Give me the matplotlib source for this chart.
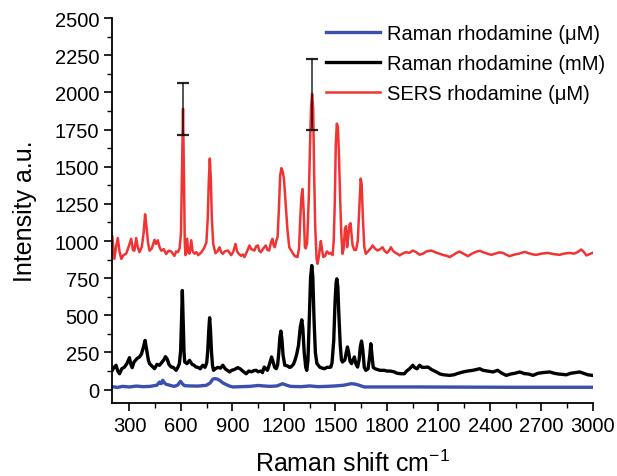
import matplotlib
matplotlib.use("Agg")
import matplotlib.pyplot as plt
from matplotlib.ticker import MultipleLocator

plt.rcParams["font.family"] = ["Liberation Sans", "DejaVu Sans"]
plt.rcParams["mathtext.fontset"] = "custom"
plt.rcParams["mathtext.rm"] = "Liberation Sans"

# ── data ──────────────────────────────────────────────────────────────────────
sers_x = [200, 212, 222, 232, 242, 252, 265, 281, 295, 310, 320, 329, 339, 348, 358,
          372, 383, 391, 398, 408, 417, 430, 446, 455, 465, 475, 485, 500, 514, 528,
          543, 552, 562, 572, 582, 592, 600, 606, 612, 618, 622, 626, 636, 643, 650,
          660, 668, 679, 690, 700, 718, 728, 737, 748, 756, 762, 768, 774, 780, 788,
          801, 812, 825, 834, 844, 855, 873, 883, 893, 905, 918, 927, 937, 950, 960,
          970, 985, 999, 1010, 1028, 1038, 1048, 1056, 1065, 1080, 1094, 1104, 1114,
          1124, 1133, 1140, 1147, 1155, 1163, 1170, 1178, 1185, 1192, 1200, 1210,
          1220, 1231, 1245, 1260, 1272, 1279, 1288, 1295, 1302, 1308, 1315, 1322,
          1327, 1335, 1345, 1352, 1358, 1364, 1370, 1376, 1382, 1390, 1396, 1404,
          1410, 1415, 1422, 1429, 1440, 1450, 1464, 1474, 1483, 1490, 1496, 1502,
          1508, 1514, 1520, 1527, 1534, 1541, 1548, 1555, 1562, 1568, 1575, 1582,
          1588, 1594, 1600, 1610, 1620, 1630, 1640, 1647, 1653, 1660, 1668, 1677,
          1690, 1705, 1716, 1730, 1745, 1760, 1774, 1785, 1800, 1812, 1823, 1835,
          1850, 1862, 1874, 1890, 1910, 1930, 1951, 1970, 1990, 2010, 2030, 2058,
          2080, 2107, 2130, 2150, 2165, 2185, 2205, 2223, 2245, 2272, 2295, 2320,
          2340, 2360, 2385, 2408, 2430, 2456, 2480, 2500, 2515, 2540, 2570, 2602,
          2625, 2650, 2670, 2700, 2738, 2770, 2806, 2830, 2864, 2890, 2910, 2932,
          2948, 2962, 2980, 2997]
sers_y = [1030, 880, 960, 1020, 930, 880, 905, 915, 960, 1015, 940, 935, 1020, 960, 925,
          960, 1060, 1180, 1110, 990, 935, 950, 1008, 980, 1005, 960, 935, 945, 912, 935,
          930, 915, 900, 930, 925, 950, 1050, 1450, 1890, 1400, 1000, 905, 1015, 920, 915,
          1005, 930, 915, 925, 905, 923, 940, 958, 990, 1150, 1400, 1555, 1420, 1150, 980,
          918, 930, 958, 925, 914, 930, 936, 920, 905, 930, 980, 930, 914, 900, 910,
          892, 930, 970, 945, 936, 965, 970, 935, 925, 950, 970, 940, 936,
          990, 1015, 970, 958, 1000, 1026, 1200, 1440, 1490, 1470, 1420, 1250,
          1080, 958, 930, 903, 893, 893, 950, 1150, 1300, 1350, 1200, 960,
          950, 990, 1300, 1650, 1900, 1990, 1900, 1450, 1100, 880, 847, 900,
          960, 1000, 940, 893, 900, 930, 914, 920, 905, 1000, 1250, 1650,
          1790, 1770, 1600, 1300, 1050, 914, 950, 1080, 1100, 958, 1030, 1110,
          1120, 1040, 970, 940, 940, 1000, 1250, 1420, 1380, 1150, 960, 914,
          930, 950, 970, 950, 936, 945, 958, 935, 920, 935, 958, 935,
          920, 914, 903, 915, 925, 920, 936, 925, 908, 915, 930, 936,
          925, 914, 905, 900, 892, 905, 920, 929, 915, 898, 915, 928,
          934, 925, 915, 907, 915, 924, 918, 905, 898, 908, 915, 927,
          918, 910, 907, 915, 920, 912, 907, 915, 920, 915, 925, 943,
          925, 903, 912, 920]

raman_mm_x = [200, 210, 222, 232, 242, 255, 271, 285, 300, 308, 316, 326, 335, 345, 358,
              370, 380, 391, 400, 410, 417, 430, 446, 460, 475, 490, 500, 510, 520, 530,
              543, 555, 572, 582, 591, 598, 603, 608, 613, 618, 622, 635, 650, 665, 675,
              688, 700, 712, 727, 740, 750, 756, 762, 767, 772, 778, 784, 790, 800, 815,
              830, 844, 858, 870, 883, 895, 910, 931, 945, 960, 980, 995, 1010, 1025,
              1038, 1050, 1065, 1075, 1085, 1095, 1104, 1115, 1128, 1138, 1146, 1155,
              1163, 1170, 1176, 1182, 1188, 1195, 1205, 1220, 1232, 1240, 1255, 1265,
              1275, 1285, 1295, 1304, 1310, 1318, 1327, 1333, 1340, 1348, 1355, 1362,
              1368, 1375, 1383, 1392, 1410, 1425, 1435, 1450, 1465, 1473, 1480, 1490,
              1498, 1504, 1508, 1514, 1520, 1528, 1535, 1541, 1555, 1563, 1570, 1577,
              1585, 1594, 1603, 1610, 1620, 1629, 1638, 1645, 1652, 1659, 1668, 1677,
              1690, 1700, 1706, 1712, 1720, 1730, 1745, 1760, 1784, 1800, 1820, 1843,
              1860, 1880, 1901, 1915, 1932, 1951, 1960, 1975, 1990, 2005, 2020, 2039,
              2060, 2088, 2110, 2130, 2165, 2190, 2215, 2243, 2270, 2300, 2320, 2340,
              2360, 2385, 2418, 2445, 2470, 2495, 2520, 2545, 2573, 2600, 2625, 2651,
              2680, 2710, 2748, 2775, 2800, 2845, 2870, 2900, 2923, 2945, 2970, 2997]
raman_mm_y = [130, 150, 164, 125, 107, 140, 152, 175, 215, 170, 148, 185, 197, 210, 220,
              240, 280, 331, 270, 200, 175, 160, 141, 170, 164, 185, 200, 222, 205, 170,
              152, 150, 130, 150, 175, 260, 450, 667, 460, 250, 186, 175, 197, 170, 165,
              152, 150, 140, 164, 150, 180, 260, 400, 484, 400, 250, 160, 130, 140, 150,
              145, 164, 140, 130, 119, 130, 135, 148, 140, 125, 107, 125, 120, 128,
              130, 120, 125, 115, 152, 140, 130, 170, 220, 180, 150, 141,
              165, 250, 350, 394, 340, 230, 164, 160, 150, 152, 170, 200,
              242, 300, 420, 470, 410, 250, 150, 130, 200, 500, 750, 835,
              760, 480, 250, 175, 150, 145, 141, 150, 150, 152, 180, 330,
              600, 720, 746, 690, 500, 300, 200, 186, 200, 250, 287, 250,
              190, 175, 200, 220, 170, 152, 200, 290, 327, 270, 150, 130,
              140, 230, 309, 240, 150, 141, 135, 130, 130, 125, 125, 119,
              110, 107, 107, 125, 141, 164, 150, 140, 164, 150, 150, 152,
              135, 119, 105, 100, 96, 100, 110, 119, 125, 130, 135, 141,
              130, 125, 119, 130, 110, 96, 105, 110, 119, 108, 105, 96,
              110, 115, 119, 110, 105, 100, 110, 115, 119, 110, 100, 96]

raman_um_x = [200, 230, 260, 300, 340, 380, 420, 460, 475, 485, 494, 504, 514, 540, 560,
              580, 597, 608, 620, 650, 700, 747, 770, 785, 795, 810, 825, 845, 864, 880,
              902, 950, 1000, 1050, 1080, 1120, 1160, 1192, 1215, 1238, 1300, 1350, 1400,
              1450, 1500, 1550, 1590, 1610, 1629, 1650, 1668, 1750, 2000, 2500, 3000]
raman_um_y = [20, 15, 22, 18, 24, 20, 22, 30, 51, 40, 63, 45, 36, 28, 22,
              30, 56, 40, 27, 25, 24, 29, 45, 70, 74, 72, 63, 45, 34, 25,
              18, 20, 22, 28, 25, 22, 25, 40, 30, 22, 20, 25, 20,
              22, 25, 30, 40, 38, 33, 25, 18, 18, 18, 16, 16]

err_x = [612, 1364]
err_y = [1888, 1985]
err_half = [174, 238]

fig = plt.figure(figsize=(6.17, 4.77), dpi=100)
ax = fig.add_axes([0.182, 0.153, 0.779, 0.807])

ax.plot(raman_um_x, raman_um_y, color="#3a4fae", lw=2.4, label="Raman rhodamine (\u03bcM)")
ax.plot(raman_mm_x, raman_mm_y, color="black", lw=2.4, label="Raman rhodamine (mM)")
ax.plot(sers_x, sers_y, color="#f03434", lw=1.8, label="SERS rhodamine (\u03bcM)")
ax.errorbar(err_x, err_y, yerr=err_half, fmt="none", ecolor="black",
            elinewidth=1.1, capsize=4, capthick=1.6, alpha=0.85)

ax.set_xlim(200, 3000)
ax.set_ylim(-90, 2500)
ax.xaxis.set_major_locator(MultipleLocator(300))
ax.xaxis.set_minor_locator(MultipleLocator(150))
ax.yaxis.set_major_locator(MultipleLocator(250))
ax.yaxis.set_minor_locator(MultipleLocator(125))
ax.set_xticks(range(300, 3001, 300))

for side in ("top", "right"):
    ax.spines[side].set_visible(False)
for side in ("left", "bottom"):
    ax.spines[side].set_linewidth(1.3)
ax.tick_params(which="major", direction="out", length=6, width=1.2, labelsize=14.5)
ax.tick_params(which="minor", direction="out", length=3.5, width=1.0)

ax.set_xlabel("Raman shift cm$^{\\mathregular{-1}}$", fontsize=18, labelpad=10)
ax.set_ylabel("Intensity a.u.", fontsize=18, labelpad=13)

ax.legend(loc="upper left", bbox_to_anchor=(0.428, 1.005), frameon=False, fontsize=14.5,
          handlelength=2.7, handletextpad=0.35, labelspacing=0.55, borderaxespad=0)

fig.savefig("out.png", dpi=100)
